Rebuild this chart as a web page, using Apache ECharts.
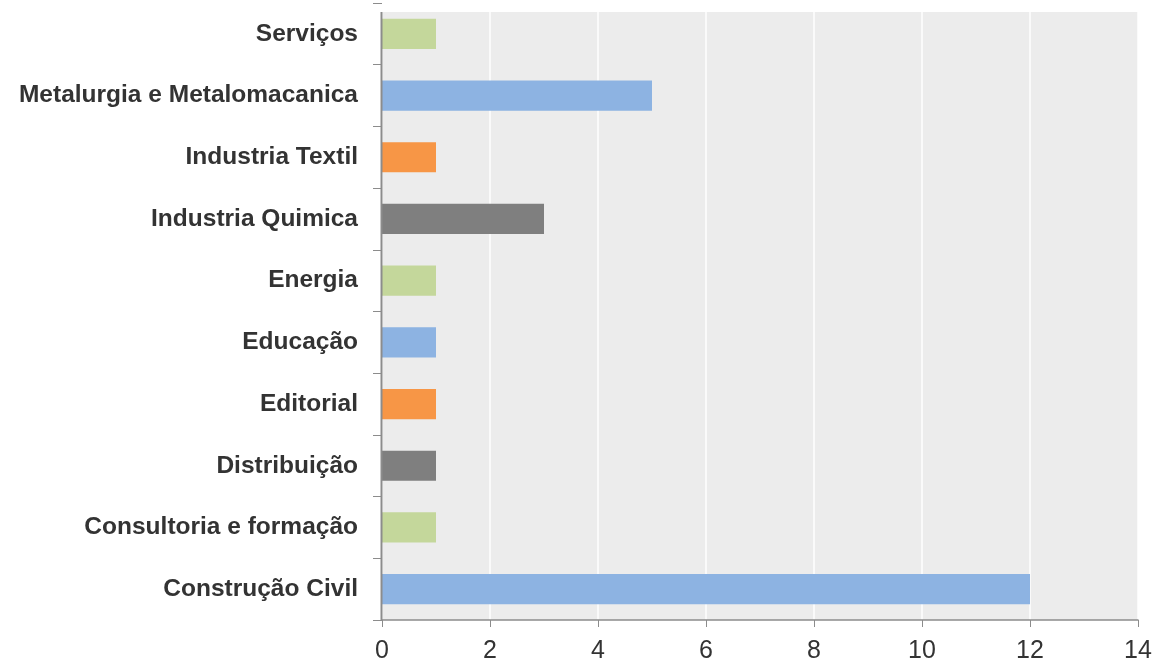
<!DOCTYPE html>
<html>
<head>
<meta charset="utf-8">
<title>Empresas por setor</title>
<script src="https://cdn.jsdelivr.net/npm/echarts@6/dist/echarts.min.js"></script>
<style>
  html, body { margin: 0; padding: 0; background: #ffffff; }
  #chart { width: 1156px; height: 664px; }
</style>
</head>
<body>
<div id="chart"></div>
<script>
// Sectors, listed bottom to top as they appear on the axis
const categories = [
  'Construção Civil',
  'Consultoria e formação',
  'Distribuição',
  'Editorial',
  'Educação',
  'Energia',
  'Industria Quimica',
  'Industria Textil',
  'Metalurgia e Metalomacanica',
  'Serviços'
];

// Number of companies per sector
const values = [12, 1, 1, 1, 1, 1, 3, 1, 5, 1];

// Repeating bar palette: blue, green, grey, orange
const palette = ['#8db3e2', '#c4d79b', '#7f7f7f', '#f79646'];

// Value axis ticks
const xTicks = [0, 2, 4, 6, 8, 10, 12, 14];

const chart = echarts.init(document.getElementById('chart'));

const plotLeft = 382, plotRight = 1138, plotTop = 12, plotBottom = 620;

chart.setOption({
  animation: false,
  graphic: [
    {
      type: 'rect',
      z: -10,
      silent: true,
      shape: { x: plotLeft, y: plotTop, width: plotRight - plotLeft, height: plotBottom - plotTop },
      style: { fill: '#ececec' }
    },
    {
      type: 'line',
      z: 10,
      silent: true,
      shape: { x1: plotLeft - 0.5, y1: plotTop, x2: plotLeft - 0.5, y2: plotBottom },
      style: { stroke: '#8c8c8c', lineWidth: 2 }
    }
  ],
  grid: {
    left: plotLeft,
    right: 1156 - plotRight,
    top: 3,
    bottom: 664 - plotBottom,
    containLabel: false
  },
  xAxis: {
    type: 'value',
    min: xTicks[0],
    max: xTicks[xTicks.length - 1],
    interval: 2,
    axisLine: { show: true, lineStyle: { color: '#8c8c8c', width: 1.5 } },
    axisTick: { show: true, length: 7, lineStyle: { color: '#8c8c8c' } },
    axisLabel: {
      color: '#333333',
      fontFamily: 'Liberation Sans, Arial, sans-serif',
      fontSize: 25,
      margin: 19
    },
    splitLine: { show: true, lineStyle: { color: '#ffffff', width: 1.5 } }
  },
  yAxis: {
    type: 'category',
    data: categories,
    axisLine: { show: false },
    axisTick: { show: true, length: 9, lineStyle: { color: '#8c8c8c' } },
    axisLabel: {
      color: '#333333',
      fontFamily: 'Liberation Sans, Arial, sans-serif',
      fontWeight: 'bold',
      fontSize: 24.5,
      margin: 24,
      padding: [4, 0, 0, 0]
    },
    splitLine: { show: false }
  },
  series: [{
    type: 'bar',
    data: values.map((v, i) => ({ value: v, itemStyle: { color: palette[i % palette.length] } })),
    barCategoryGap: '51%',
    itemStyle: { borderWidth: 0 }
  }]
});
</script>
</body>
</html>
